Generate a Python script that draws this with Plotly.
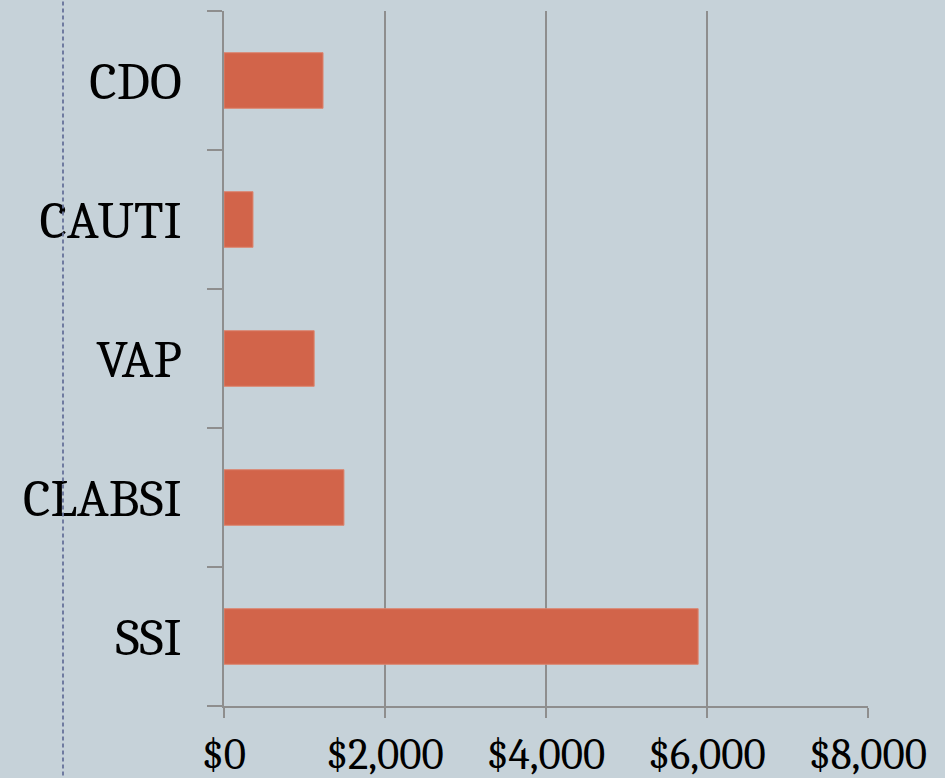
import plotly.graph_objects as go

categories = ["SSI", "CLABSI", "VAP", "CAUTI", "CDO"]
costs = [5890, 1490, 1120, 360, 1230]
x_tick_values = [0, 2000, 4000, 6000, 8000]
x_tick_labels = ["$0", "$2,000", "$4,000", "$6,000", "$8,000"]

BG = "#c6d2d9"
GRID = "#8e8e8e"
BAR = "#d2644a"
FONT = "Cambria, Caladea, 'Liberation Serif', serif"

fig = go.Figure(
    go.Bar(
        x=costs,
        y=categories,
        orientation="h",
        marker=dict(color=BAR, line=dict(color="#dc8670", width=1)),
        width=0.4,
    )
)

fig.update_layout(
    width=945,
    height=778,
    paper_bgcolor=BG,
    plot_bgcolor=BG,
    margin=dict(l=224, r=77, t=11, b=72),
    showlegend=False,
    font=dict(family=FONT, color="black"),
    xaxis=dict(
        range=[0, 8000],
        tickvals=x_tick_values,
        ticktext=x_tick_labels,
        showgrid=True,
        gridcolor=GRID,
        gridwidth=1.5,
        zeroline=False,
        showline=True,
        linecolor=GRID,
        linewidth=1.5,
        ticks="outside",
        ticklen=10,
        tickwidth=1.5,
        tickcolor=GRID,
        tickfont=dict(size=43, family=FONT, color="black"),
        ticklabelstandoff=0,
        automargin=False,
    ),
    yaxis=dict(
        range=[-0.5, 4.5],
        showgrid=False,
        showline=True,
        linecolor=GRID,
        linewidth=1.5,
        ticks="outside",
        tickson="boundaries",
        ticklen=15,
        tickwidth=1.5,
        tickcolor=GRID,
        tickfont=dict(size=53, family=FONT, color="black"),
        ticklabelstandoff=30,
        automargin=False,
    ),
    shapes=[
        dict(
            type="line",
            xref="paper",
            yref="paper",
            x0=-0.25,
            x1=-0.25,
            y0=-0.11,
            y1=1.02,
            line=dict(color="#66729a", width=1.8, dash="4px,3px"),
        )
    ],
)

fig.write_html(
    "out.html",
    config={"displayModeBar": False},
    post_script="document.body.style.margin='0';",
)
